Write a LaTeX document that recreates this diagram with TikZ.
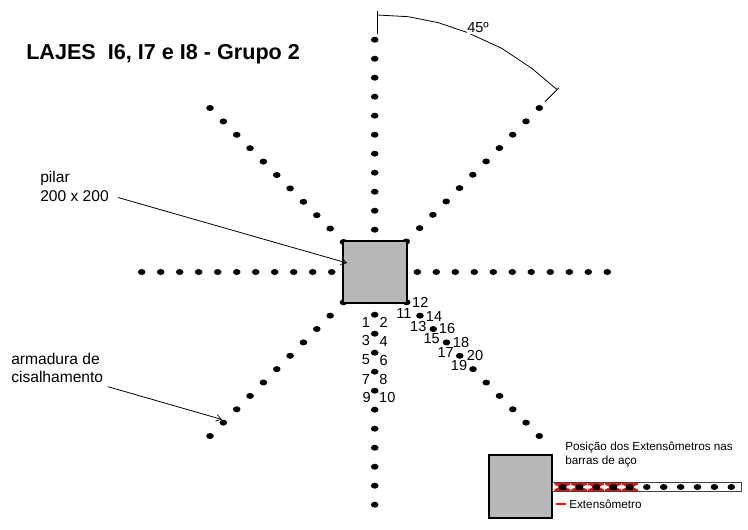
\documentclass[tikz,border=0pt]{standalone}
\usepackage{fontspec}
\setmainfont{Liberation Sans}
\usetikzlibrary{arrows.meta,shapes.geometric}
\definecolor{boxgray}{HTML}{B8B8B8}
\definecolor{gaugered}{HTML}{F01010}
\tikzset{
  x=0.75pt,y=-0.75pt,
  pt/.style={ellipse,fill=black,inner sep=0pt,minimum width=5.7pt,minimum height=4.5pt},
  lbl/.style={inner sep=0pt,font=\fontsize{10.9pt}{12pt}\selectfont},
  txt/.style={inner sep=0pt,anchor=west,align=left,font=\fontsize{11.7pt}{14pt}\selectfont},
  small/.style={inner sep=0pt,anchor=west,align=left,font=\fontsize{8.8pt}{10.5pt}\selectfont},
  colbox/.style={draw=black,line width=1.5pt,fill=boxgray},
  lead/.style={draw=black,line width=0.6pt,-{Straight Barb[length=4pt,width=5pt,line width=0.5pt]}},
  thin line/.style={draw=black,line width=0.6pt}
}
\begin{document}
\begin{tikzpicture}
\useasboundingbox (0,0) rectangle (748,529);
\foreach \i in {0,...,10}{
  \node[pt] at ({141.7+19*\i},272) {};
  \node[pt] at ({417.3+19*\i},272) {};
  \node[pt] at (374.7,{39.7+19*\i}) {};
  \node[pt] at (374.7,{314.7+19*\i}) {};
  \node[pt] at ({210+13.35*\i},{108+13.4*\i}) {};
  \node[pt] at ({539.3-13.3*\i},{108+13.35*\i}) {};
  \node[pt] at ({343.5-13.35*\i},{302.3+13.37*\i}) {};
  \node[pt] at ({406.7+13.26*\i},{302.3+13.37*\i}) {};
}
\node[colbox,minimum width=47.5pt,minimum height=46.5pt,inner sep=0pt] (pilar) at (375,271.7) {};
\node[font=\bfseries\fontsize{16.2pt}{18pt}\selectfont,inner sep=0pt,anchor=west] (title) at (26,54) {LAJES\ \ I6, I7 e I8 - Grupo 2};
\node[txt] (lbpilar) at (40,186.5) {pilar\\200 x 200};
\node[txt] (lbarm) at (11,368) {armadura de\\cisalhamento};
\coordinate (a1) at (118,197.5);
\coordinate (a2) at (347,263);
\draw[lead] (a1) -- (a2);
\coordinate (b1) at (108,386.7);
\coordinate (b2) at (222,419.5);
\draw[lead] (b1) -- (b2);
% angle arc
\coordinate (t0) at (377.3,11);
\coordinate (t1) at (377.3,34);
\coordinate (t2) at (559,87.7);
\coordinate (t3) at (545,101.7);
\draw[thin line] (t0) -- (t1);
\draw[thin line] (t3) -- (t2);
\draw[thin line] (377.3,15) -- (408.3,16.7) -- (438.3,22.7) -- (466.7,32.3) -- (501.7,48.3) -- (531.7,68.3) -- (556.7,89.3);
\node[lbl,fill=white,inner sep=0.5pt] (ang) at (478,27.7) {45º};
% numbers
\foreach \t/\x/\y in {1/366/322.3,2/383.7/322.7,3/366/340.7,4/383.7/341,5/366/360,6/383.7/360.7,7/366/379,8/383.3/379,9/366.7/397.7,10/387.3/397.7,
 11/404/313.3,12/420.3/302,13/418.3/326,14/434/316,15/431.7/338.7,16/447/328.7,17/445.7/352.7,18/461/342,19/459/365.7,20/475/355.7}{
  \node[lbl] at (\x,\y) {\t};
}
% detail
\node[colbox,minimum width=47.5pt,minimum height=47pt,inner sep=0pt] (det) at (520.3,486.8) {};
\node[draw=black!75,line width=0.8pt,fill=white,minimum width=141.5pt,minimum height=6.2pt,inner sep=0pt] (bar) at (646.7,487) {};
\foreach \i in {0,...,4}{
  \pgfmathsetmacro{\cx}{562.3+16.9*\i}
  \fill[gaugered] (\cx-8,483) -- (\cx+8,483) -- (\cx+8,484.5) -- (\cx+3,487) -- (\cx+8,489.5) -- (\cx+8,491) -- (\cx-8,491) -- (\cx-8,489.5) -- (\cx-3,487) -- (\cx-8,484.5) -- cycle;
  \fill[black] (\cx-3.5,484.5) rectangle (\cx+3.5,489.5);
}
\foreach \i in {0,...,10}{
  \node[pt] at ({562.3+16.9*\i},487) {};
}
\node[small] (pos) at (565,454) {Posição dos Extensômetros nas\\barras de aço};
\node[small] (ext) at (569,504) {Extensômetro};
\fill[gaugered] (556,502.5) rectangle (566,505.2);
\end{tikzpicture}
\end{document}
